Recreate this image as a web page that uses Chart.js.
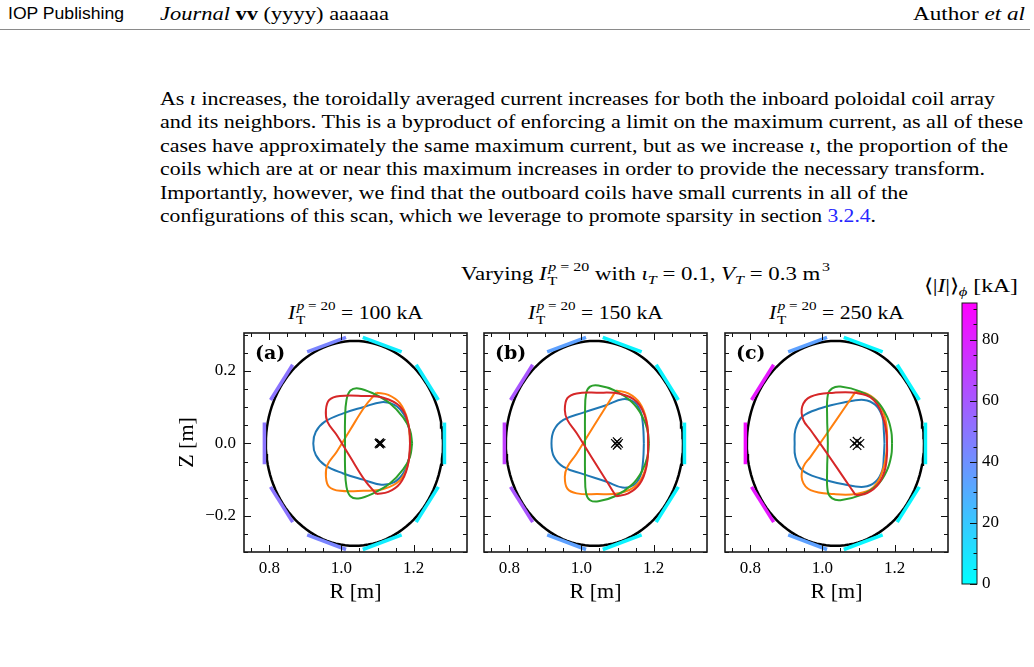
<!DOCTYPE html>
<html>
<head>
<meta charset="utf-8">
<script src="https://cdn.jsdelivr.net/npm/chart.js@4.4.0/dist/chart.umd.min.js"></script>
<style>
body { margin: 0; background: #fff; width: 1034px; height: 667px; position: relative; overflow: hidden; font-family: "Liberation Serif", serif; color: #000; }
.t { position: absolute; white-space: nowrap; line-height: 1; transform-origin: 0 0; }
.sans { font-family: "Liberation Sans", sans-serif; }
.sp { font-size: 0.7em; position: relative; top: -0.65em; margin-left: 0.1em; }
.sb { font-size: 0.7em; position: relative; top: 0.35em; left: 0.05em; display: inline-block; width: 0; }
.rule { position: absolute; left: 0; top: 29px; width: 1030px; height: 1px; background: #8a8a8a; }
canvas { position: absolute; }
a { color: #2626ff; text-decoration: none; }
</style>
</head>
<body>
<div class="t sans" data-b="20" data-w="116" style="left:8px;font-size:16px">IOP Publishing</div>
<div class="t" data-b="20" data-w="229" style="left:160px;font-size:18px"><i>Journal</i> <b>vv</b> (yyyy) aaaaaa</div>
<div class="t" data-b="20" data-w="112" style="left:913px;font-size:18px">Author <i>et al</i></div>
<div class="rule"></div>

<div class="t" data-b="105" data-w="835" style="left:160px;font-size:19px">As <i>ι</i> increases, the toroidally averaged current increases for both the inboard poloidal coil array</div>
<div class="t" data-b="128.4" data-w="863" style="left:160px;font-size:19px">and its neighbors. This is a byproduct of enforcing a limit on the maximum current, as all of these</div>
<div class="t" data-b="151.8" data-w="848" style="left:160px;font-size:19px">cases have approximately the same maximum current, but as we increase <i>ι</i>, the proportion of the</div>
<div class="t" data-b="175.2" data-w="825" style="left:160px;font-size:19px">coils which are at or near this maximum increases in order to provide the necessary transform.</div>
<div class="t" data-b="198.6" data-w="748" style="left:160px;font-size:19px">Importantly, however, we find that the outboard coils have small currents in all of the</div>
<div class="t" data-b="222" data-w="716" style="left:160px;font-size:19px">configurations of this scan, which we leverage to promote sparsity in section <a>3.2.4</a>.</div>

<div class="t" data-b="280" data-w="369" style="left:461px;font-size:19px">Varying <i>I</i><span class="sb">T</span><span class="sp"><i>p</i> = 20</span> with <i>ι</i><sub style="font-size:0.7em;vertical-align:0;position:relative;top:0.3em"><i>T</i></sub> = 0.1, <i>V</i><sub style="font-size:0.7em;vertical-align:0;position:relative;top:0.3em"><i>T</i></sub> = 0.3 m<span class="sp">3</span></div>
<div class="t" data-b="319" data-w="135" style="left:288px;font-size:19px"><i>I</i><span class="sb">T</span><span class="sp"><i>p</i> = 20</span> = 100 kA</div>
<div class="t" data-b="319" data-w="135" style="left:528px;font-size:19px"><i>I</i><span class="sb">T</span><span class="sp"><i>p</i> = 20</span> = 150 kA</div>
<div class="t" data-b="319" data-w="135" style="left:769px;font-size:19px"><i>I</i><span class="sb">T</span><span class="sp"><i>p</i> = 20</span> = 250 kA</div>
<div class="t" data-b="292" data-w="94" style="left:924px;font-size:19px">⟨|<i>I</i>|⟩<sub style="font-size:0.7em;vertical-align:0;position:relative;top:0.3em"><i>ϕ</i></sub> [kA]</div>

<canvas id="panelA" width="315" height="285" style="left:160px;top:325px"></canvas>
<canvas id="panelB" width="315" height="285" style="left:400px;top:325px"></canvas>
<canvas id="panelC" width="315" height="285" style="left:641px;top:325px"></canvas>
<canvas id="cbar" width="80" height="300" style="left:954px;top:295px"></canvas>

<script>
// Ejes y marcas
const xMajorTicks = [0.8, 1.0, 1.2];
const xMinorTicks = [0.75, 0.85, 0.9, 0.95, 1.05, 1.1, 1.15, 1.25, 1.3];
const yMajorTicks = [-0.2, 0.0, 0.2];
const yMinorTicks = [-0.3, -0.25, -0.15, -0.1, -0.05, 0.05, 0.1, 0.15, 0.25, 0.3];
const cbarTicks = [0, 20, 40, 60, 80];
const cbarMinorTicks = [5, 10, 15, 25, 30, 35, 45, 50, 55, 65, 70, 75, 85, 90];
const cbarMax = 92;

// Cámara de vacío (elipse) y bobinas
const vesselR0 = 1.036, vesselA = 0.2455, vesselB = 0.283;
const coilAngles = [0, 36, 72, 108, 144, 180, 216, 252, 288, 324];
const coilCurrentsA = [6, 6, 6, 44, 50, 50, 50, 44, 6, 6];
const coilCurrentsB = [4, 4, 4, 34, 61, 69, 61, 34, 4, 4];
const coilCurrentsC = [3, 3, 3, 34, 83, 87, 83, 34, 3, 3];

// Superficies de flujo [R, Z] por ángulo toroidal (azul, naranja, verde, rojo)
const surfA0 = [[1.192,0],[1.187,0.042],[1.173,0.080],[1.148,0.106],[1.111,0.114],[1.060,0.100],[1.005,0.083],[0.954,0.060],[0.929,0.032],[0.922,0],[0.929,-0.032],[0.954,-0.060],[1.005,-0.083],[1.060,-0.100],[1.111,-0.114],[1.148,-0.106],[1.173,-0.080],[1.187,-0.042],[1.192,0]];
const surfA1 = [[1.097,0.140],[1.130,0.134],[1.162,0.111],[1.183,0.065],[1.190,0],[1.185,-0.055],[1.162,-0.102],[1.116,-0.126],[1.061,-0.131],[0.996,-0.131],[0.966,-0.120],[0.957,-0.092],[0.961,-0.060],[0.987,-0.023],[1.024,0.037],[1.065,0.102],[1.097,0.140]];
const surfA2 = [[1.196,0],[1.190,0.037],[1.171,0.072],[1.134,0.111],[1.088,0.138],[1.047,0.152],[1.025,0.146],[1.014,0.120],[1.010,0.065],[1.010,0],[1.010,-0.065],[1.014,-0.120],[1.025,-0.146],[1.047,-0.152],[1.088,-0.138],[1.134,-0.111],[1.171,-0.072],[1.190,-0.037],[1.196,0]];
const surfA3 = [[1.097,-0.140],[1.130,-0.134],[1.162,-0.111],[1.183,-0.065],[1.190,0],[1.185,0.055],[1.162,0.102],[1.116,0.126],[1.061,0.131],[0.996,0.131],[0.966,0.120],[0.957,0.092],[0.961,0.060],[0.987,0.023],[1.024,-0.037],[1.065,-0.102],[1.097,-0.140]];

const surfB0 = [[1.173,0],[1.171,0.046],[1.164,0.088],[1.145,0.115],[1.114,0.122],[1.070,0.106],[1.005,0.085],[0.950,0.065],[0.924,0.037],[0.917,0],[0.924,-0.037],[0.950,-0.065],[1.005,-0.085],[1.070,-0.106],[1.114,-0.122],[1.145,-0.115],[1.164,-0.088],[1.171,-0.046],[1.173,0]];
const surfB1 = [[1.096,0.146],[1.130,0.138],[1.162,0.111],[1.180,0.065],[1.185,0],[1.179,-0.065],[1.153,-0.115],[1.107,-0.137],[1.042,-0.140],[0.987,-0.138],[0.961,-0.125],[0.954,-0.092],[0.961,-0.065],[0.987,-0.028],[1.033,0.046],[1.074,0.111],[1.096,0.146]];
const surfB2 = [[1.187,0],[1.183,0.037],[1.167,0.078],[1.139,0.115],[1.093,0.146],[1.047,0.160],[1.024,0.157],[1.013,0.138],[1.010,0.083],[1.010,0],[1.010,-0.083],[1.013,-0.138],[1.024,-0.157],[1.047,-0.160],[1.093,-0.146],[1.139,-0.115],[1.167,-0.078],[1.183,-0.037],[1.187,0]];
const surfB3 = [[1.096,-0.146],[1.130,-0.138],[1.162,-0.111],[1.180,-0.065],[1.185,0],[1.179,0.065],[1.153,0.115],[1.107,0.137],[1.042,0.140],[0.987,0.138],[0.961,0.125],[0.954,0.092],[0.961,0.065],[0.987,0.028],[1.033,-0.046],[1.074,-0.111],[1.096,-0.146]];

const surfC0 = [[1.172,0],[1.170,0.037],[1.166,0.074],[1.147,0.106],[1.115,0.120],[1.059,0.113],[0.995,0.097],[0.944,0.074],[0.925,0.037],[0.923,0],[0.925,-0.037],[0.944,-0.074],[0.995,-0.097],[1.059,-0.113],[1.115,-0.120],[1.147,-0.106],[1.166,-0.074],[1.170,-0.037],[1.172,0]];
const surfC1 = [[1.092,0.143],[1.124,0.137],[1.156,0.111],[1.175,0.065],[1.179,0],[1.170,-0.065],[1.142,-0.120],[1.096,-0.139],[1.032,-0.140],[0.967,-0.129],[0.944,-0.102],[0.947,-0.065],[0.967,-0.037],[1.013,0.028],[1.064,0.102],[1.092,0.143]];
const surfC2 = [[1.193,0],[1.191,0.032],[1.179,0.074],[1.152,0.115],[1.106,0.143],[1.050,0.157],[1.027,0.152],[1.015,0.134],[1.013,0.074],[1.015,0],[1.013,-0.074],[1.015,-0.134],[1.027,-0.152],[1.050,-0.157],[1.106,-0.143],[1.152,-0.115],[1.179,-0.074],[1.191,-0.032],[1.193,0]];
const surfC3 = [[1.092,-0.143],[1.124,-0.137],[1.156,-0.111],[1.175,-0.065],[1.179,0],[1.170,0.065],[1.142,0.120],[1.096,0.139],[1.032,0.140],[0.967,0.129],[0.944,0.102],[0.947,0.065],[0.967,0.037],[1.013,-0.028],[1.064,-0.102],[1.092,-0.143]];

// Eje magnético en cada ángulo
const axisA = [[1.110,0],[1.106,0.002],[1.104,0],[1.106,-0.002]];
const axisB = [[1.103,0],[1.099,0.005],[1.094,0],[1.099,-0.005]];
const axisC = [[1.104,0],[1.096,0.006],[1.088,0],[1.096,-0.006]];

const surfColors = ['#1f77b4', '#ff7f0e', '#2ca02c', '#d62728'];

// Colormap "cool" de matplotlib
function coolColor(v) {
    const t = Math.max(0, Math.min(1, v / cbarMax));
    return `rgb(${Math.round(255 * t)},${Math.round(255 * (1 - t))},255)`;
}

function fmtTick(v) {
    return (v < 0 ? '\u2212' : '') + Math.abs(v).toFixed(1);
}

function toPts(arr) {
    return arr.map(p => ({x: p[0], y: p[1]}));
}

function vesselPoints() {
    const pts = [];
    for (let d = 0; d <= 360; d += 3) {
        const th = d * Math.PI / 180;
        pts.push({x: vesselR0 + vesselA * Math.cos(th), y: vesselB * Math.sin(th)});
    }
    return pts;
}

function coilSegment(deg) {
    const th = deg * Math.PI / 180, off = 0.004, half = 0.0575;
    const cx = vesselR0 + (vesselA + off) * Math.cos(th);
    const cz = (vesselB + off) * Math.sin(th);
    let tx = -vesselA * Math.sin(th), tz = vesselB * Math.cos(th);
    const n = Math.hypot(tx, tz);
    tx /= n; tz /= n;
    return [{x: cx - half * tx, y: cz - half * tz}, {x: cx + half * tx, y: cz + half * tz}];
}

// Marco con marcas hacia dentro
const frameTicks = {
    id: 'frameTicks',
    afterDatasetsDraw(chart, args, o) {
        const {ctx, chartArea: a, scales} = chart;
        ctx.save();
        ctx.strokeStyle = '#111';
        ctx.lineWidth = 1;
        ctx.beginPath();
        const seg = (x1, y1, x2, y2) => { ctx.moveTo(x1, y1); ctx.lineTo(x2, y2); };
        if (o.x) {
            [[o.x.minor, 4], [o.x.major, 7]].forEach(([vals, len]) => vals.forEach(v => {
                const p = Math.round(scales.x.getPixelForValue(v)) + 0.5;
                seg(p, a.bottom, p, a.bottom - len);
                seg(p, a.top, p, a.top + len);
            }));
        }
        if (o.y) {
            [[o.y.minor, o.y.minorLen || 4], [o.y.major, 7]].forEach(([vals, len]) => vals.forEach(v => {
                const p = Math.round(scales.y.getPixelForValue(v)) + 0.5;
                if (o.y.left) seg(a.left, p, a.left + len, p);
                seg(a.right, p, a.right - len, p);
            }));
        }
        ctx.stroke();
        ctx.lineWidth = o.frameWidth;
        ctx.strokeStyle = '#1a1a1a';
        ctx.strokeRect(a.left, a.top, a.width, a.height);
        if (o.label) {
            ctx.font = 'bold 19px "DejaVu Serif"';
            ctx.fillStyle = '#000';
            ctx.textBaseline = 'alphabetic';
            ctx.fillText(o.label, a.left + 11, a.top + 26);
        }
        ctx.restore();
    }
};

function noPadX(s, h) { s.height = h; s.paddingLeft = 0; s.paddingRight = 0; }
function noPadY(s, w) { s.width = w; s.paddingTop = 0; s.paddingBottom = 0; }

function createPanel(id, surfs, axisPts, currents, label, showY) {
    const datasets = [];
    datasets.push({data: vesselPoints(), showLine: true, borderColor: '#000', borderWidth: 2.5, pointRadius: 0, order: 5});
    coilAngles.forEach((ang, i) => {
        datasets.push({data: coilSegment(ang), showLine: true, borderColor: coolColor(currents[i]),
            borderWidth: 3.5, borderCapStyle: 'butt', pointRadius: 0, order: 4});
    });
    surfs.forEach((s, k) => {
        datasets.push({data: toPts(s), showLine: true, borderColor: surfColors[k], borderWidth: 2,
            pointRadius: 0, tension: 0.4, order: 3 - k * 0.1});
    });
    datasets.push({data: toPts(axisPts), showLine: false, pointStyle: 'crossRot', pointRadius: 6,
        borderColor: '#000', borderWidth: 1.2, backgroundColor: '#000', order: 1});

    new Chart(document.getElementById(id), {
        type: 'scatter',
        data: {datasets: datasets},
        options: {
            responsive: false,
            animation: false,
            layout: {padding: {left: 0, top: 8, right: 8, bottom: 0}},
            plugins: {
                legend: {display: false},
                tooltip: {enabled: false},
                frameTicks: {
                    x: {major: xMajorTicks, minor: xMinorTicks},
                    y: {major: yMajorTicks, minor: yMinorTicks, left: true},
                    frameWidth: 1.6,
                    label: label
                }
            },
            scales: {
                x: {
                    type: 'linear', min: 0.730, max: 1.348,
                    grid: {display: false, drawTicks: false},
                    border: {display: false},
                    afterBuildTicks: s => { s.ticks = xMajorTicks.map(v => ({value: v})); },
                    afterFit: s => noPadX(s, 58),
                    ticks: {color: '#000', font: {family: 'Liberation Serif', size: 17}, padding: 6,
                        maxRotation: 0, autoSkip: false, callback: v => fmtTick(v)},
                    title: {display: true, text: 'R [m]', color: '#000',
                        font: {family: 'Liberation Serif', size: 22}, padding: {top: 0, bottom: 5}}
                },
                y: {
                    type: 'linear', position: 'left', min: -0.300, max: 0.305,
                    grid: {display: false, drawTicks: false},
                    border: {display: false},
                    afterBuildTicks: s => { s.ticks = yMajorTicks.map(v => ({value: v})); },
                    afterFit: s => noPadY(s, 84),
                    ticks: {display: showY, color: '#000', font: {family: 'Liberation Serif', size: 17},
                        padding: 8, autoSkip: false, callback: v => fmtTick(v)},
                    title: {display: showY, text: 'Z [m]', color: '#000',
                        font: {family: 'Liberation Serif', size: 22}, padding: {top: 14, bottom: 0}}
                }
            }
        },
        plugins: [frameTicks]
    });
}

function createColorbar(id) {
    new Chart(document.getElementById(id), {
        type: 'bar',
        data: {
            labels: [''],
            datasets: [{
                data: [cbarMax],
                borderWidth: 0,
                barPercentage: 1,
                categoryPercentage: 1,
                backgroundColor: ctx => {
                    const ch = ctx.chart;
                    if (!ch.chartArea) return 'rgb(0,255,255)';
                    const y = ch.scales.y;
                    const g = ch.ctx.createLinearGradient(0, y.getPixelForValue(0), 0, y.getPixelForValue(cbarMax));
                    g.addColorStop(0, coolColor(0));
                    g.addColorStop(1, coolColor(cbarMax));
                    return g;
                }
            }]
        },
        options: {
            responsive: false,
            animation: false,
            layout: {padding: {left: 8, top: 8, right: 0, bottom: 11}},
            plugins: {
                legend: {display: false},
                tooltip: {enabled: false},
                frameTicks: {
                    y: {major: cbarTicks, minor: cbarMinorTicks, left: false, minorLen: 3.5},
                    frameWidth: 1
                }
            },
            scales: {
                x: {display: false},
                y: {
                    position: 'right', min: 0, max: cbarMax,
                    grid: {display: false, drawTicks: false},
                    border: {display: false},
                    afterBuildTicks: s => { s.ticks = cbarTicks.map(v => ({value: v})); },
                    afterFit: s => noPadY(s, 57),
                    ticks: {color: '#000', font: {family: 'Liberation Serif', size: 17}, padding: 5, autoSkip: false}
                }
            }
        },
        plugins: [frameTicks]
    });
}

// Ajuste de los textos HTML a la posición y anchura del original
document.querySelectorAll('.t').forEach(el => {
    const size = parseFloat(getComputedStyle(el).fontSize);
    const asc = el.classList.contains('sans') ? 0.8465 : 0.8375;
    el.style.top = (parseFloat(el.dataset.b) - asc * size) + 'px';
    if (el.dataset.w) {
        const w = el.getBoundingClientRect().width;
        el.style.transform = `scaleX(${parseFloat(el.dataset.w) / w})`;
    }
});

createPanel('panelA', [surfA0, surfA1, surfA2, surfA3], axisA, coilCurrentsA, '(a)', true);
createPanel('panelB', [surfB0, surfB1, surfB2, surfB3], axisB, coilCurrentsB, '(b)', false);
createPanel('panelC', [surfC0, surfC1, surfC2, surfC3], axisC, coilCurrentsC, '(c)', false);
createColorbar('cbar');
</script>
</body>
</html>
